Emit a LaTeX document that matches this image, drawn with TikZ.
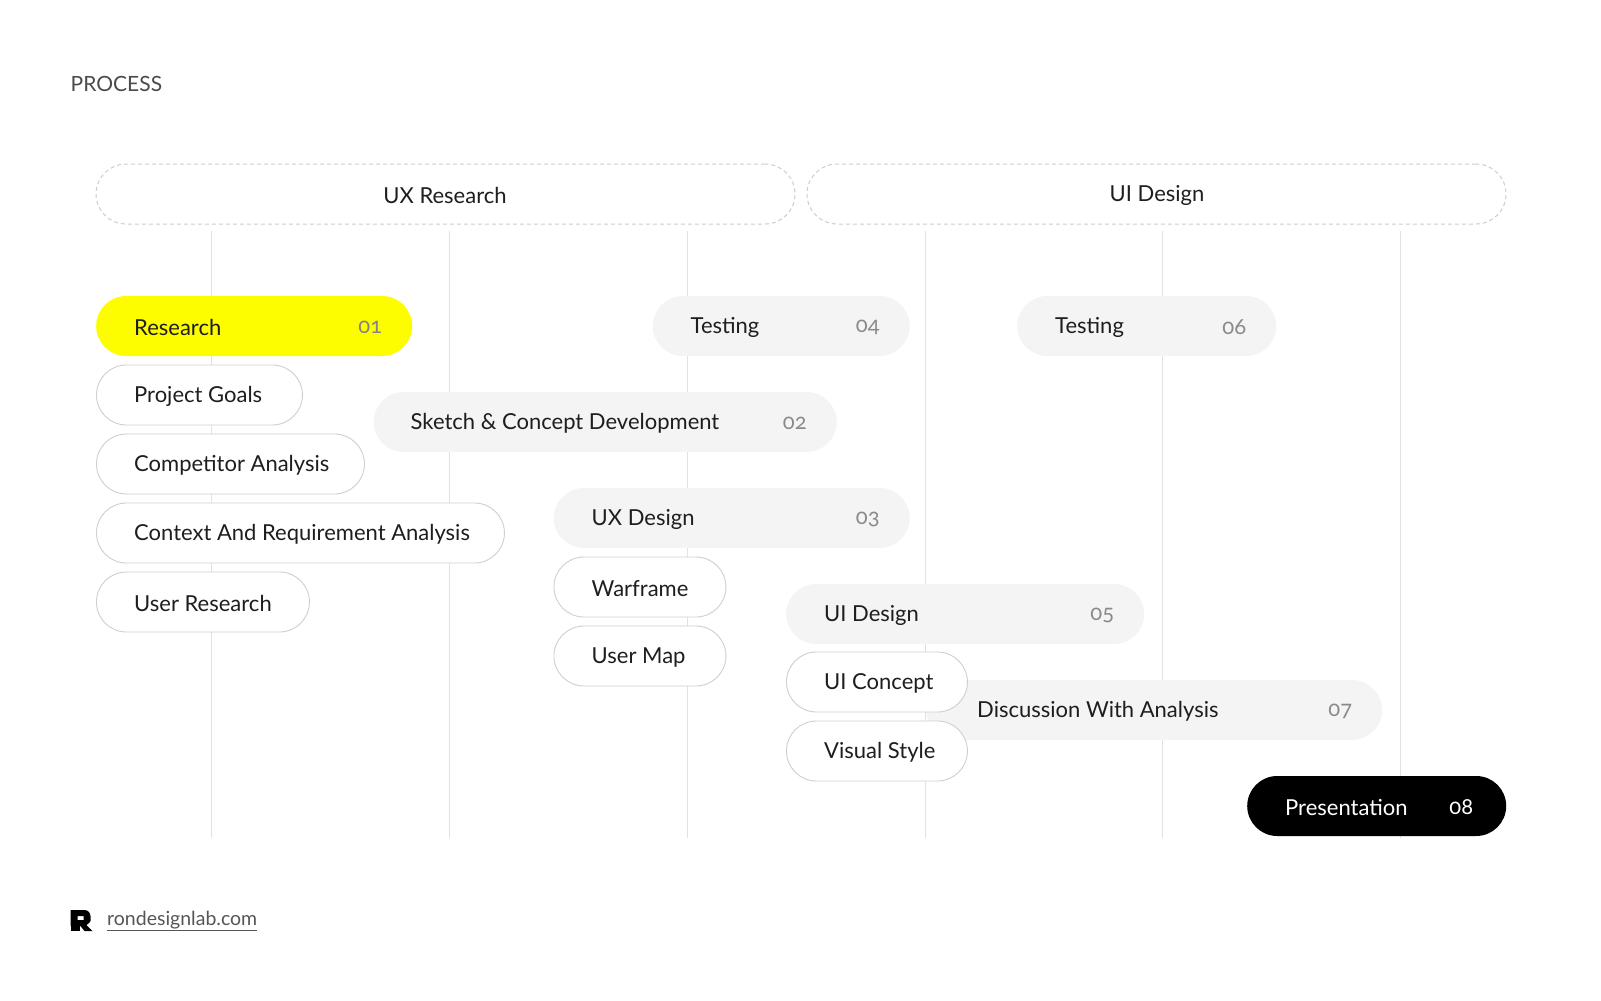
\documentclass[tikz,border=0pt]{standalone}
\usepackage{fontspec}
\setmainfont{Lato}
\newfontfamily\numfont[Numbers=OldStyle]{Lato}
\usetikzlibrary{positioning}

\definecolor{ink}{HTML}{1E1E1E}
\definecolor{numgray}{HTML}{8A8A8A}
\definecolor{rulegray}{HTML}{E2E2E2}
\definecolor{pillgray}{HTML}{F4F4F4}
\definecolor{edgegray}{HTML}{CFCFCF}
\definecolor{dashgray}{HTML}{CCCCCC}
\definecolor{hl}{HTML}{FDFD00}

\begin{document}
\begin{tikzpicture}[x=1pt, y=-1pt,
		every node/.style={inner sep=0pt, font=\fontsize{22}{26}\selectfont, text=ink},
		phase/.style={draw=dashgray, line width=1pt, dash pattern=on 4pt off 3pt,
			rounded corners=30pt, minimum height=60pt},
		stage/.style={fill=pillgray, rounded corners=30pt, minimum height=60pt, anchor=west},
		task/.style={draw=edgegray, fill=white, line width=0.9pt, rounded corners=30pt,
			minimum height=60pt, anchor=west},
		head/.style={yshift=-1.5pt},
		txt/.style={anchor=west, yshift=-1.5pt},
		no/.style={anchor=east, yshift=-1.5pt, text=numgray, font=\fontsize{22}{26}\numfont},
		grid/.style={draw=rulegray, line width=1pt}]
	\useasboundingbox (0,0) rectangle (1601,1001);

	% title
	\node[txt, text=ink!80, font=\fontsize{21}{24}\selectfont] (title) at (70.5,82) {PROCESS};

	% phases
	\node[phase, minimum width=699pt] (ux) at (445.5,194) {};
	\node[head] (ux-t) at (445,194) {UX Research};
	\node[phase, minimum width=699pt] (ui) at (1156.5,194) {};
	\node[head] (ui-t) at (1157,194) {UI Design};

	% columns
	\foreach \i in {0,...,5}
		\draw[grid] (211.3+237.9*\i,231) coordinate (c\i) -- (211.3+237.9*\i,838) coordinate (d\i);

	% 01 research
	\node[stage, fill=hl, minimum width=316pt] (research) at (96,326) {};
	\node[txt] (research-t) at ([xshift=38pt]research.west) {Research};
	\node[no, text=ink!55] (research-n) at ([xshift=-30pt]research.east) {01};
	\node[task, minimum width=206pt] (goals) at (96,395) {};
	\node[txt] (goals-t) at ([xshift=38pt]goals.west) {Project Goals};
	\node[task, minimum width=268pt] (comp) at (96,464) {};
	\node[txt] (comp-t) at ([xshift=38pt]comp.west) {Competitor Analysis};
	\node[task, minimum width=408pt] (context) at (96,533) {};
	\node[txt] (context-t) at ([xshift=38pt]context.west) {Context And Requirement Analysis};
	\node[task, minimum width=213pt] (user) at (96,602) {};
	\node[txt] (user-t) at ([xshift=38pt]user.west) {User Research};

	% 02 sketch
	\node[stage, minimum width=463pt] (sketch) at (373.5,422) {};
	\node[txt] (sketch-t) at ([xshift=37pt]sketch.west) {Sketch \& Concept Development};
	\node[no] (sketch-n) at ([xshift=-30pt]sketch.east) {02};

	% 03 ux design
	\node[stage, minimum width=356pt] (uxd) at (553.5,518) {};
	\node[txt] (uxd-t) at ([xshift=38pt]uxd.west) {UX Design};
	\node[no] (uxd-n) at ([xshift=-30pt]uxd.east) {03};
	\node[task, minimum width=172pt] (wire) at (553.5,587) {};
	\node[txt] (wire-t) at ([xshift=38pt]wire.west) {Warframe};
	\node[task, minimum width=172pt] (map) at (553.5,656) {};
	\node[txt] (map-t) at ([xshift=38pt]map.west) {User Map};

	% 04 testing
	\node[stage, minimum width=257pt] (test1) at (652.5,326) {};
	\node[txt] (test1-t) at ([xshift=38pt]test1.west) {Testing};
	\node[no] (test1-n) at ([xshift=-30pt]test1.east) {04};

	% 05 ui design
	\node[stage, minimum width=358pt] (uid) at (786,614) {};
	\node[txt] (uid-t) at ([xshift=38pt]uid.west) {UI Design};
	\node[no] (uid-n) at ([xshift=-30pt]uid.east) {05};

	% 07 discussion (behind the ui tasks)
	\node[stage, minimum width=456pt] (talk) at (926,710) {};
	\node[txt] (talk-t) at (977,710) {Discussion With Analysis};
	\node[no] (talk-n) at ([xshift=-30pt]talk.east) {07};

	\node[task, minimum width=181pt] (concept) at (786,682) {};
	\node[txt] (concept-t) at ([xshift=38pt]concept.west) {UI Concept};
	\node[task, minimum width=181pt] (style) at (786,751) {};
	\node[txt] (style-t) at ([xshift=38pt]style.west) {Visual Style};

	% 06 testing
	\node[stage, minimum width=259pt] (test2) at (1017,326) {};
	\node[txt] (test2-t) at ([xshift=38pt]test2.west) {Testing};
	\node[no] (test2-n) at ([xshift=-30pt]test2.east) {06};

	% 08 presentation
	\node[stage, fill=black, minimum width=259pt] (pres) at (1247,806) {};
	\node[txt, text=white] (pres-t) at ([xshift=38pt]pres.west) {Presentation};
	\node[no, text=white] (pres-n) at ([xshift=-33pt]pres.east) {08};

	% footer
	\fill[black, even odd rule] (70.5,910) -- (84.5,910) to[out=0,in=90] (90.5,916) -- (90.5,921)
		to[out=-90,in=60] (86.5,925) -- (92.5,931) -- (84.5,931) -- (80.5,926) -- (70.5,926) -- cycle
		(77.5,916) rectangle (83.5,920);
	\fill[black] (70.5,925) rectangle (79.5,931);
	\node[txt, text=ink!75, font=\fontsize{19.5}{22}\selectfont] (site) at (107,919.5)
		{\underline{rondesignlab.com}};
\end{tikzpicture}
\end{document}
